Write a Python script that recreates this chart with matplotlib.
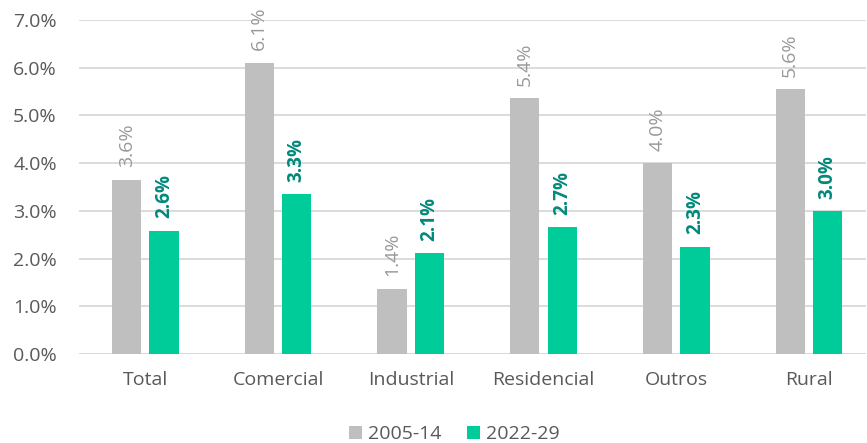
import matplotlib.pyplot as plt
import numpy as np

categorias = ["Total", "Comercial", "Industrial", "Residencial", "Outros", "Rural"]
serie_2005_14 = [3.65, 6.10, 1.37, 5.36, 4.00, 5.55]
serie_2022_29 = [2.58, 3.35, 2.11, 2.66, 2.25, 2.99]
rotulos_2005_14 = ["3.6%", "6.1%", "1.4%", "5.4%", "4.0%", "5.6%"]
rotulos_2022_29 = ["2.6%", "3.3%", "2.1%", "2.7%", "2.3%", "3.0%"]
nomes_series = ["2005-14", "2022-29"]

plt.rcParams['font.family'] = ['Open Sans', 'DejaVu Sans']

cinza = "#bfbfbf"
verde = "#00cc99"
cor_texto = "#595959"

fig = plt.figure(figsize=(8.67, 4.43), dpi=100)
ax = fig.add_axes([0.0911, 0.201, 0.9077, 0.754])

x = np.arange(len(categorias))
w = 0.221
off = 0.141
b1 = ax.bar(x - off, serie_2005_14, width=w, color=cinza, label=nomes_series[0], zorder=3)
b2 = ax.bar(x + off, serie_2022_29, width=w, color=verde, label=nomes_series[1], zorder=3)

for rect, txt in zip(b1, rotulos_2005_14):
    ax.annotate(txt, (rect.get_x() + rect.get_width() / 2, rect.get_height()),
                xytext=(0, 9), textcoords="offset points", rotation=90,
                ha="center", va="bottom", fontsize=14, color="#999999")
for rect, txt in zip(b2, rotulos_2022_29):
    ax.annotate(txt, (rect.get_x() + rect.get_width() / 2, rect.get_height()),
                xytext=(0, 9), textcoords="offset points", rotation=90,
                ha="center", va="bottom", fontsize=13.5, color="#00897b",
                fontweight="bold")

ax.set_xlim(-0.5, 5.43)
ax.set_ylim(0, 7)
ax.set_yticks(np.arange(0, 7.1, 1))
ax.set_yticklabels([f"{v:.1f}%" for v in np.arange(0, 7.1, 1)])
ax.set_xticks(x)
ax.set_xticklabels(categorias)
ax.tick_params(axis="both", length=0, labelsize=14, colors=cor_texto)
ax.tick_params(axis="x", pad=12)
ax.tick_params(axis="y", pad=16)

ax.grid(axis="y", color="#d9d9d9", linewidth=1.3, zorder=0)
for s in ax.spines.values():
    s.set_visible(False)
ax.axhline(0, color="#d9d9d9", linewidth=1.3, zorder=2)

fig.legend(loc="lower center", bbox_to_anchor=(0.524, -0.04), ncol=2, frameon=False,
           fontsize=14, labelcolor=cor_texto, handlelength=0.7, handleheight=0.7,
           handletextpad=0.3, columnspacing=1.3)

fig.savefig("out.png", dpi=100)
